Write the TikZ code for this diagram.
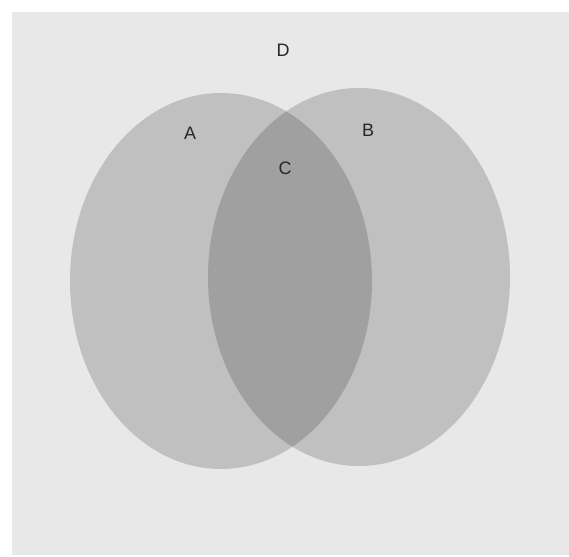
\documentclass[tikz,border=0pt]{standalone}
\usepackage{fontspec}
\setmainfont{Liberation Sans}
\begin{document}
\begin{tikzpicture}[x=1pt,y=-1pt,
  setbox/.style={fill=black!86!white, fill opacity=0.2, draw=none},
  lbl/.style={font=\fontsize{18}{20}\selectfont, text=black!85}]
\useasboundingbox (0,0) rectangle (569,556);
\fill[white] (0,0) rectangle (569,556);
\fill[black!9] (12,12) rectangle (569,555);
\fill[setbox] (221,281) ellipse [x radius=151, y radius=188];
\fill[setbox] (359,277) ellipse [x radius=151, y radius=189];
\node[lbl] (D) at (283,50) {D};
\node[lbl] (A) at (190,133) {A};
\node[lbl] (B) at (368,130) {B};
\node[lbl] (C) at (285,168) {C};
\end{tikzpicture}
\end{document}
